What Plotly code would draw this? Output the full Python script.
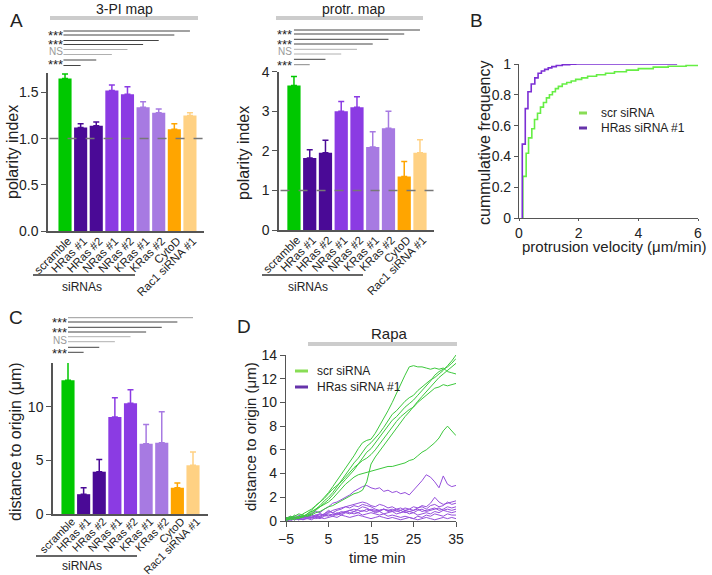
import plotly.graph_objects as go

W, H = 712, 575
FONT = "Liberation Sans, Arial, sans-serif"

# ---------------- data ----------------
categories = ["scramble", "HRas #1", "HRas #2", "NRas #1", "NRas #2",
              "KRas #1", "KRas #2", "CytoD", "Rac1 siRNA #1"]
bar_colors = ["#00C800", "#4A0A96", "#4A0A96", "#8B3BE3", "#8B3BE3",
              "#A77AE2", "#A77AE2", "#FFA500", "#FFD183"]

pi3_mean = [1.65, 1.12, 1.14, 1.52, 1.48, 1.34, 1.28, 1.10, 1.25]
pi3_upper = [1.70, 1.16, 1.18, 1.58, 1.56, 1.40, 1.32, 1.16, 1.28]
protr_mean = [3.65, 1.82, 1.95, 3.00, 3.10, 2.10, 2.57, 1.35, 1.95]
protr_upper = [3.88, 2.03, 2.27, 3.25, 3.37, 2.48, 3.00, 1.73, 2.28]
dist_mean = [12.5, 1.85, 3.95, 9.05, 10.35, 6.55, 6.65, 2.45, 4.55]
dist_upper = [14.2, 2.45, 5.1, 10.85, 11.6, 8.35, 9.55, 2.9, 5.8]

sig_labels = ["***", "***", "NS", "***"]
sig_ends = [8, 7, 6, 5, 4, 3, 2, 1]

# panel B cumulative distributions (step points)
scr_vel = [0.13, 0.13, 0.24, 0.32, 0.43, 0.52, 0.62, 0.72, 0.82, 0.92, 1.02, 1.12, 1.22, 1.32,
           1.45, 1.6, 1.75, 1.9, 2.1, 2.3, 2.6, 2.9, 3.2, 3.6, 4.0, 4.5, 5.0, 5.6, 6.0]
scr_cdf = [0, 0.27, 0.42, 0.52, 0.58, 0.64, 0.68, 0.72, 0.75, 0.78, 0.80, 0.82, 0.84, 0.855,
           0.87, 0.88, 0.89, 0.90, 0.91, 0.92, 0.93, 0.94, 0.95, 0.96, 0.97, 0.98, 0.985, 0.99, 0.995]
hras_vel = [0.11, 0.11, 0.21, 0.3, 0.41, 0.53, 0.64, 0.75, 0.86, 0.98, 1.1, 1.25, 1.45, 1.7, 1.9, 5.3]
hras_cdf = [0, 0.48, 0.71, 0.82, 0.87, 0.91, 0.94, 0.955, 0.965, 0.975, 0.983, 0.99, 0.995, 0.998, 1.0, 1.0]

# panel D traces, time -5..35 min every 1 min
time_min = list(range(-5, 36))
scr_tracks = [
    [0.1, 0.3, 0.2, 0.4, 0.3, 0.6, 0.9, 1.3, 1.6, 2.0, 2.4, 2.9, 3.4, 3.9, 4.5, 5.0, 5.5, 6.1, 6.6, 6.8, 6.9,
     7.4, 8.0, 8.6, 9.3, 10.0, 10.8, 11.6, 12.3, 13.0, 13.1, 13.0, 13.0, 12.9, 12.8, 12.9, 12.8, 12.9, 12.6, 12.5, 12.4],
    [0.2, 0.1, 0.3, 0.2, 0.4, 0.5, 0.7, 1.0, 1.3, 1.7, 2.0, 2.4, 2.9, 3.5, 4.0, 4.4, 4.9, 5.3, 5.8, 6.3, 6.6,
     7.0, 7.4, 7.9, 8.5, 9.0, 9.3, 9.7, 10.1, 10.4, 10.6, 11.0, 11.3, 11.6, 11.9, 12.1, 12.4, 12.7, 13.1, 13.5, 14.0],
    [0.0, 0.2, 0.1, 0.3, 0.5, 0.4, 0.6, 0.9, 1.2, 1.5, 1.8, 2.2, 2.7, 3.1, 3.5, 3.9, 4.3, 4.8, 5.3, 5.8, 6.1,
     6.6, 7.0, 7.5, 8.0, 8.5, 8.8, 9.2, 9.6, 9.9, 10.2, 10.6, 11.0, 11.4, 11.8, 12.3, 12.6, 12.8, 13.0, 13.3, 13.7],
    [0.3, 0.2, 0.5, 0.3, 0.6, 0.8, 1.0, 1.3, 1.6, 1.9, 2.3, 2.7, 3.0, 3.3, 3.7, 4.1, 4.5, 4.8, 5.1, 5.3, 5.6,
     6.0, 6.5, 7.0, 7.5, 8.0, 8.4, 8.8, 9.1, 9.4, 9.6, 10.0, 10.3, 10.6, 10.9, 11.2, 11.3, 11.5, 11.4, 11.5, 11.6],
    [0.2, 0.4, 0.3, 0.2, 0.4, 0.6, 0.8, 1.0, 1.2, 1.4, 1.6, 1.9, 2.3, 2.7, 3.1, 3.4, 3.7, 3.9, 4.0, 4.1, 4.2,
     4.3, 4.4, 4.5, 4.6, 4.6, 4.7, 4.8, 4.9, 5.1, 5.2, 5.5, 5.8, 6.0, 6.3, 6.6, 7.0, 7.6, 8.0, 7.6, 7.2],
    [0.1, 0.3, 0.4, 0.6, 0.5, 0.4, 0.5, 0.7, 0.8, 1.0, 1.2, 1.3, 1.5, 1.7, 1.9, 2.1, 2.3, 2.4, 2.6, 3.3, 4.8,
     5.4, 5.9, 6.4, 6.9, 7.3, 7.8, 8.3, 8.8, 9.2, 9.7, 10.1, 10.5, 10.9, 11.3, 11.7, 12.1, 12.4, 12.7, 13.0, 13.3],
]
hras_tracks = [
    [0.2, 0.3, 0.1, 0.4, 0.3, 0.5, 0.6, 0.8, 0.7, 1.0, 1.2, 1.5, 1.6, 1.8, 2.0, 2.2, 2.5, 2.7, 2.9, 3.0, 2.8,
     2.7, 2.8, 2.5, 2.6, 2.4, 2.5, 2.3, 2.4, 2.2, 2.6, 3.0, 3.4, 3.9, 3.7, 3.3, 2.8, 3.8, 3.1, 2.9, 3.0],
    [0.1, 0.2, 0.4, 0.2, 0.3, 0.2, 0.4, 0.5, 0.6, 0.5, 0.7, 0.9, 1.0, 1.1, 1.2, 1.3, 1.4, 1.5, 1.6, 1.5, 1.3,
     1.2, 1.4, 1.3, 1.1, 1.2, 1.0, 1.1, 0.9, 1.0, 1.2, 1.1, 1.3, 1.2, 1.5, 2.0, 1.6, 1.4, 1.5, 1.6, 1.7],
    [0.3, 0.1, 0.2, 0.5, 0.3, 0.4, 0.3, 0.5, 0.4, 0.6, 0.8, 0.7, 0.9, 1.0, 1.2, 1.1, 1.3, 1.2, 1.4, 1.3, 1.2,
     1.0, 0.9, 1.0, 0.8, 0.9, 1.0, 0.9, 1.1, 1.0, 0.9, 1.1, 1.2, 1.0, 1.3, 1.4, 1.2, 1.3, 1.6, 1.4, 1.5],
    [0.0, 0.2, 0.3, 0.1, 0.2, 0.4, 0.3, 0.4, 0.6, 0.5, 0.4, 0.6, 0.5, 0.7, 0.8, 0.9, 0.8, 1.0, 1.2, 1.1, 0.9,
     0.8, 0.9, 1.0, 0.9, 1.0, 0.8, 0.9, 0.7, 0.8, 0.9, 1.0, 0.8, 0.9, 1.0, 1.1, 0.9, 1.0, 1.2, 1.1, 1.2],
    [0.2, 0.4, 0.2, 0.3, 0.1, 0.3, 0.5, 0.3, 0.4, 0.6, 0.9, 0.7, 0.6, 0.8, 0.7, 0.9, 1.0, 0.9, 0.8, 1.0, 0.9,
     0.7, 0.8, 0.6, 0.7, 0.8, 0.6, 0.7, 0.9, 0.8, 0.7, 0.9, 1.0, 0.8, 0.9, 1.0, 1.1, 0.9, 1.0, 0.9, 1.0],
    [0.1, 0.0, 0.2, 0.1, 0.3, 0.2, 0.1, 0.3, 0.2, 0.4, 0.5, 0.4, 0.6, 0.5, 0.7, 0.6, 0.8, 0.7, 0.9, 0.8, 1.0,
     0.9, 0.8, 1.0, 0.9, 0.8, 0.9, 0.7, 0.8, 0.6, 0.7, 0.5, 0.6, 0.7, 0.6, 0.8, 0.7, 0.9, 0.8, 0.7, 0.8],
    [0.3, 0.2, 0.1, 0.2, 0.4, 0.3, 0.2, 0.4, 0.3, 0.5, 0.6, 0.5, 0.7, 0.6, 0.8, 0.7, 0.6, 0.7, 0.5, 0.6, 0.7,
     0.6, 0.5, 0.6, 0.4, 0.5, 0.4, 0.3, 0.4, 0.3, 0.2, 0.4, 0.3, 0.5, 0.4, 0.6, 0.5, 0.4, 0.6, 0.5, 0.5],
    [0.1, 0.2, 0.3, 0.2, 0.1, 0.2, 0.3, 0.2, 0.3, 0.2, 0.3, 0.4, 0.3, 0.5, 0.4, 0.3, 0.4, 0.5, 0.4, 0.3, 0.2,
     0.3, 0.4, 0.3, 0.2, 0.3, 0.2, 0.1, 0.2, 0.3, 0.2, 0.1, 0.2, 0.3, 0.2, 0.1, 0.2, 0.3, 0.2, 0.3, 0.2],
]


def PX(x):
    return x / W


def PY(y):
    return 1 - y / H


fig = go.Figure()
shapes = []
ann = []

AX = "#555555"
DARK = "#444444"
LIGHT = "#b0b0b0"


def bars(means, uppers, xa, ya):
    for c, m, u, col in zip(categories, means, uppers, bar_colors):
        fig.add_trace(go.Bar(
            x=[c], y=[m], marker=dict(color=col, line=dict(width=0)), width=0.84,
            error_y=dict(type="data", symmetric=False, array=[u - m], arrayminus=[0],
                         color=col, thickness=1.5, width=3),
            xaxis=xa, yaxis=ya, showlegend=False, hoverinfo="skip"))


bars(pi3_mean, pi3_upper, "x", "y")
bars(protr_mean, protr_upper, "x2", "y2")
bars(dist_mean, dist_upper, "x4", "y4")

# panel B
fig.add_trace(go.Scatter(x=scr_vel, y=scr_cdf, mode="lines", line=dict(color="#66EE44", width=1.6, shape="hv"),
                         xaxis="x3", yaxis="y3", showlegend=False))
fig.add_trace(go.Scatter(x=hras_vel, y=hras_cdf, mode="lines", line=dict(color="#7B2FD4", width=1.6, shape="hv"),
                         xaxis="x3", yaxis="y3", showlegend=False))

# panel D
for tr in hras_tracks:
    fig.add_trace(go.Scatter(x=time_min, y=tr, mode="lines", line=dict(color="#9650DC", width=1),
                             xaxis="x5", yaxis="y5", showlegend=False))
for tr in scr_tracks:
    fig.add_trace(go.Scatter(x=time_min, y=tr, mode="lines", line=dict(color="#3CC83C", width=1),
                             xaxis="x5", yaxis="y5", showlegend=False))


def cat_axis(x0, x1, rng, size=11.5, shift=3, standoff=-3):
    return dict(domain=[PX(x0), PX(x1)], type="category", categoryorder="array", categoryarray=categories,
                range=rng, showline=True, linecolor=AX, linewidth=1.5, ticks="", tickangle=-45,
                ticklabelshift=shift, ticklabelstandoff=standoff,
                tickfont=dict(size=size, color="#222", family=FONT), showgrid=False, zeroline=False,
                fixedrange=True)


def val_axis(y0_px, y1_px, rng, tickvals, fmt=None, size=14):
    d = dict(domain=[PY(y0_px), PY(y1_px)], range=rng, tickvals=tickvals, ticks="outside", ticklen=5,
             tickcolor=AX, tickwidth=1.2, showline=True, linecolor=AX, linewidth=1.5,
             tickfont=dict(size=size, color="#222", family=FONT), showgrid=False, zeroline=False)
    if fmt:
        d["tickformat"] = fmt
    return d


layout = dict(
    width=W, height=H, margin=dict(l=0, r=0, t=0, b=0, autoexpand=False),
    paper_bgcolor="white", plot_bgcolor="white",
    barmode="overlay", font=dict(family=FONT, color="#222"), showlegend=False,
    xaxis=dict(cat_axis(48, 204, [-1.09, 8.9]), anchor="y"),
    yaxis=dict(val_axis(231, 73, [0, 1.71], [0, 0.5, 1.0, 1.5], ".1f"), anchor="x"),
    xaxis2=dict(cat_axis(279, 434, [-0.95, 8.89]), anchor="y2"),
    yaxis2=dict(val_axis(230, 71.7, [0, 4.0], [0, 1, 2, 3, 4]), anchor="x2"),
    xaxis4=dict(cat_axis(53, 208, [-0.96, 8.96], size=11, shift=4, standoff=-5), anchor="y4"),
    yaxis4=dict(val_axis(514, 363, [0, 14.1], [0, 5, 10]), anchor="x4"),
    xaxis3=dict(domain=[PX(519), PX(698)], range=[0, 6], tickvals=[0, 2, 4, 6], ticks="outside", ticklen=2,
                tickcolor=AX, showline=True, linecolor=AX, linewidth=1.2, showgrid=False, zeroline=False,
                tickfont=dict(size=14, color="#222"), anchor="y3"),
    yaxis3=dict(domain=[PY(218), PY(64)], range=[0, 1], tickvals=[0, 0.2, 0.4, 0.6, 0.8, 1],
                ticktext=["0", "0.2", "0.4", "0.6", "0.8", "1"], ticks="outside", ticklen=4, tickcolor=AX,
                showline=True, linecolor=AX, linewidth=1.2, showgrid=False, zeroline=False,
                tickfont=dict(size=14, color="#222"), anchor="x3"),
    xaxis5=dict(domain=[PX(286), PX(456)], range=[-5, 35], tickvals=[-5, 5, 15, 25, 35], ticks="outside",
                ticklen=5, tickcolor=AX, showline=True, linecolor=AX, linewidth=1.2, showgrid=False,
                zeroline=False, tickfont=dict(size=14, color="#222"), anchor="y5"),
    yaxis5=dict(domain=[PY(521), PY(355)], range=[0, 14], tickvals=list(range(0, 15, 2)), ticks="outside",
                ticklen=5, tickcolor=AX, showline=True, linecolor=AX, linewidth=1.2, showgrid=False,
                zeroline=False, tickfont=dict(size=14, color="#222"), anchor="x5"),
)

# dashed reference lines at 1
for xd, ya in [("x domain", "y"), ("x2 domain", "y2")]:
    shapes.append(dict(type="line", xref=xd, yref=ya, x0=0.01, x1=1, y0=1, y1=1,
                       line=dict(color="#777777", width=1.5, dash="dash"), layer="above"))


def sig_block(xref, start, rows_px, colors, star_x, star_ys):
    for end, y, col in zip(sig_ends, rows_px, colors):
        shapes.append(dict(type="line", xref=xref, yref="paper", x0=start, x1=end, y0=PY(y), y1=PY(y),
                           line=dict(color=col, width=1)))
    for lab, y in zip(sig_labels, star_ys):
        ann.append(dict(text=lab, x=PX(star_x), y=PY(y), xref="paper", yref="paper", xanchor="right",
                        yanchor="middle", showarrow=False, borderpad=0,
                        font=dict(size=13 if lab == "***" else 10, color="#999" if lab == "NS" else "#222")))


sig_block("x", -0.1, [31, 35, 40.5, 44.5, 49.5, 54.5, 60, 65.5],
          [DARK, DARK, DARK, DARK, LIGHT, LIGHT, DARK, DARK], 64, [35.5, 44.5, 51.5, 64.5])
sig_block("x2", 0, [30, 34, 39.3, 44, 49.3, 54, 59.3, 64.7],
          [DARK, DARK, DARK, DARK, LIGHT, LIGHT, DARK, "#888"], 293, [35, 45, 52, 65])
sig_block("x4", 0, [317.7, 322, 327.3, 332, 336.7, 341.7, 347.3, 352.3],
          ["#999", DARK, DARK, DARK, LIGHT, LIGHT, DARK, DARK], 68, [322, 332, 340, 353.5])

# grey top bars
for x0, x1, y in [(50, 198, 18), (276, 423, 18), (308, 457, 344)]:
    shapes.append(dict(type="line", xref="paper", yref="paper", x0=PX(x0), x1=PX(x1), y0=PY(y), y1=PY(y),
                       line=dict(color="#cccccc", width=4)))

# siRNAs underlines
for x0, x1, y, tx, ty in [(33, 135, 275, 82, 287), (262, 363, 275, 308, 287), (36, 137, 556, 82, 566)]:
    shapes.append(dict(type="line", xref="paper", yref="paper", x0=PX(x0), x1=PX(x1), y0=PY(y), y1=PY(y),
                       line=dict(color="#333", width=1.5)))
    ann.append(dict(text="siRNAs", x=PX(tx), y=PY(ty), xref="paper", yref="paper", showarrow=False,
                    xanchor="center", yanchor="middle", font=dict(size=12, color="#222")))

# legends (B and D)
for lx0, lx1, tx, y1, y2 in [(579, 587, 599, 113, 128), (295, 308, 315, 371, 387)]:
    for y, col, lab in [(y1, "#88DD55", "scr siRNA"), (y2, "#6633AA", "HRas siRNA #1")]:
        shapes.append(dict(type="line", xref="paper", yref="paper", x0=PX(lx0), x1=PX(lx1), y0=PY(y), y1=PY(y),
                           line=dict(color=col, width=3)))
        ann.append(dict(text=lab, x=PX(tx), y=PY(y), xref="paper", yref="paper", showarrow=False,
                        xanchor="left", yanchor="middle", font=dict(size=12, color="#222")))

# texts: titles, labels
texts = [
    ("3-PI map", 124, 8.5, 14, 0),
    ("protr. map", 353, 8.5, 14, 0),
    ("Rapa", 390, 333, 15, 0),
    ("A", 16, 21, 19, 0), ("B", 476, 21, 19, 0), ("C", 16, 317, 19, 0), ("D", 244, 326, 19, 0),
    ("polarity index", 12, 152, 16, -90),
    ("polarity index", 243, 153, 16, -90),
    ("cummulative frequency", 485, 143, 16, -90),
    ("distance to origin (μm)", 15, 442, 16, -90),
    ("distance to origin (μm)", 250, 437, 15, -90),
    ("protrusion velocity (μm/min)", 614, 246, 15, 0),
    ("time min", 377, 557, 15, 0),
]
for t, x, y, s, ang in texts:
    ann.append(dict(text=t, x=PX(x), y=PY(y), xref="paper", yref="paper", showarrow=False, textangle=ang,
                    xanchor="center", yanchor="middle", font=dict(size=s, color="#222")))

layout["shapes"] = shapes
layout["annotations"] = ann
fig.update_layout(**layout)
# remove the default 8px page margin so the figure fills the 712x575 window exactly
fig.write_html("out.html", config={"displayModeBar": False},
               post_script="document.body.style.margin='0px';")
